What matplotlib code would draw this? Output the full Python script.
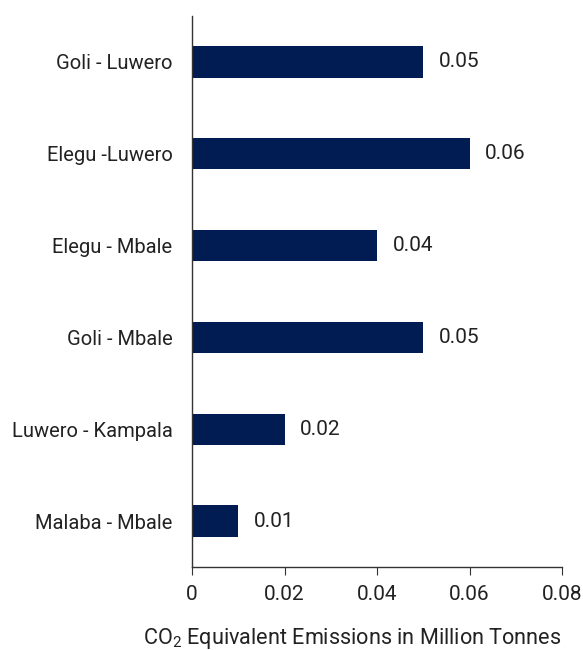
import matplotlib
matplotlib.use("Agg")
import matplotlib.pyplot as plt

plt.rcParams['font.family'] = ['Roboto', 'Noto Sans', 'DejaVu Sans']
plt.rcParams['mathtext.fontset'] = 'custom'
plt.rcParams['mathtext.rm'] = 'Roboto'
plt.rcParams['mathtext.it'] = 'Roboto'

categories = ["Goli - Luwero", "Elegu -Luwero", "Elegu - Mbale", "Goli - Mbale",
              "Luwero - Kampala", "Malaba - Mbale"]
values = [0.05, 0.06, 0.04, 0.05, 0.02, 0.01]
value_labels = ["0.05", "0.06", "0.04", "0.05", "0.02", "0.01"]
xticks = [0, 0.02, 0.04, 0.06, 0.08]
xtick_labels = ["0", "0.02", "0.04", "0.06", "0.08"]

fig = plt.figure(figsize=(5.83, 6.5), dpi=100)
ax = fig.add_axes([192/583, 1-567/650, (562-192)/583, (567-16)/650])

ypos = list(range(len(categories)))[::-1]
ax.barh(ypos, values, height=0.34, color='#001c52')
for y, v, lab in zip(ypos, values, value_labels):
    ax.text(v + 0.0034, y, lab, va='center', ha='left', fontsize=15, color='#222222')

ax.set_ylim(-0.5, len(categories) - 0.5)
ax.set_xlim(0, 0.08)
ax.set_yticks(ypos)
ax.set_yticklabels(categories, fontsize=14.5, color='#222222')
ax.set_xticks(xticks)
ax.set_xticklabels(xtick_labels, fontsize=15, color='#222222')
ax.tick_params(axis='y', length=0, pad=14)
ax.tick_params(axis='x', length=6, direction='out', pad=7, color='#333333')
for s in ['top', 'right']:
    ax.spines[s].set_visible(False)
for s in ['left', 'bottom']:
    ax.spines[s].set_color('#333333')
    ax.spines[s].set_linewidth(1.0)

ax.set_xlabel("CO$_2$ Equivalent Emissions in Million Tonnes", fontsize=15.6,
              color='#222222')
ax.xaxis.label.set_va('baseline')
ax.xaxis.set_label_coords(0.432, (567 - 644) / 551)

fig.savefig("out.png", dpi=100)
